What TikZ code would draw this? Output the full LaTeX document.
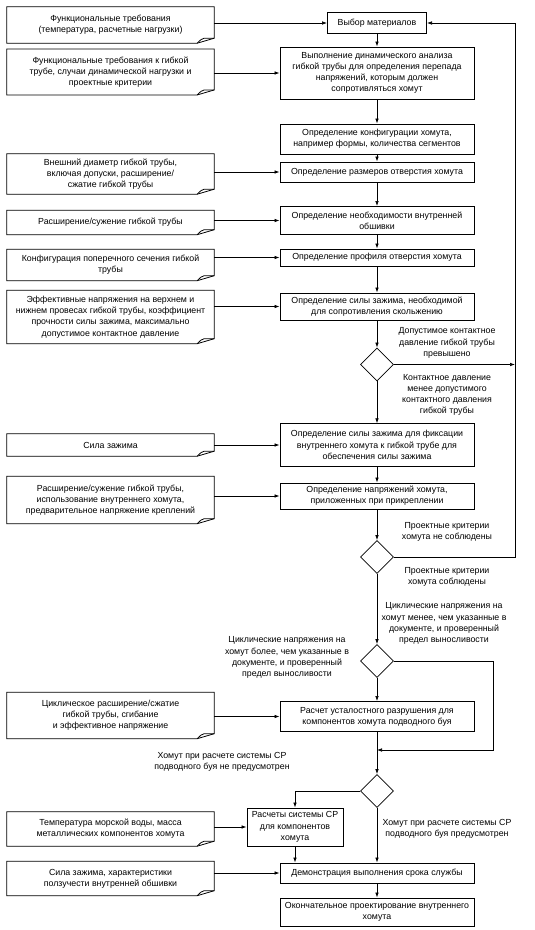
\documentclass[tikz,border=0pt]{standalone}
\usepackage{fontspec}
\setmainfont{Liberation Sans}
\usetikzlibrary{arrows.meta,shapes.geometric}
\begin{document}
\begin{tikzpicture}[x=1pt,y=-1pt,
  every node/.style={font=\fontsize{8.8}{11.2}\selectfont, align=center, inner sep=0pt},
  proc/.style={draw, line width=1pt, minimum width=194pt},
  docbox/.style={minimum width=207pt},
  dia/.style={draw, diamond, line width=0.8pt, minimum width=33pt, minimum height=33pt},
  docline/.style={line width=0.8pt, line join=miter},
  arr/.style={line width=0.7pt, -{Latex[length=5pt,width=3.6pt]}},
  lbl/.style={}]
\useasboundingbox (0,0) rectangle (535,930);
\fill[white] (0,0) rectangle (535,930);

% process boxes
\node[draw, line width=1pt, minimum width=99pt, minimum height=21.5pt] (m0) at (377,23) {Выбор материалов};
\node[proc, minimum height=52pt] (p1) at (377,73) {Выполнение динамического анализа\\гибкой трубы для определения перепада\\напряжений, которым должен\\сопротивляться хомут};
\node[proc, minimum height=30pt] (p2) at (377,139) {Определение конфигурации хомута,\\например формы, количества сегментов};
\node[proc, minimum height=20pt] (p3) at (377,172) {Определение размеров отверстия хомута};
\node[proc, minimum height=28pt] (p4) at (377,220.5) {Определение необходимости внутренней\\обшивки};
\node[proc, minimum height=17pt] (p5) at (377,257.5) {Определение профиля отверстия хомута};
\node[proc, minimum height=27pt] (p6) at (377,306.5) {Определение силы зажима, необходимой\\для сопротивления скольжению};
\node[dia] (D1) at (377,364.5) {};
\node[proc, minimum height=42.5pt] (p7) at (377,445) {Определение силы зажима для фиксации\\внутреннего хомута к гибкой трубе для\\обеспечения силы зажима};
\node[proc, minimum height=26pt] (p8) at (377,496) {Определение напряжений хомута,\\приложенных при прикреплении};
\node[dia] (D2) at (377,557) {};
\node[dia] (D3) at (377,661) {};
\node[proc, minimum height=30pt] (p9) at (377,716.5) {Расчет усталостного разрушения для\\компонентов хомута подводного буя};
\node[dia] (D4) at (377,791) {};
\node[draw, line width=1pt, minimum width=96pt, minimum height=38pt] (p11) at (295,827) {Расчеты системы СР\\для компонентов\\хомута};
\node[proc, minimum height=20pt] (p12) at (377,873) {Демонстрация выполнения срока службы};
\node[proc, minimum height=28pt] (p13) at (377,912) {Окончательное проектирование внутреннего\\хомута};

% document boxes
\node[docbox, minimum height=36pt] (d1) at (110.5,25) {Функциональные требования\\(температура, расчетные нагрузки)};
\node[docbox, minimum height=45.5pt] (d2) at (110.5,72) {Функциональные требования к гибкой\\трубе, случаи динамической нагрузки и\\проектные критерии};
\node[docbox, minimum height=40pt] (d3) at (110.5,174) {Внешний диаметр гибкой трубы,\\включая допуски, расширение/\\сжатие гибкой трубы};
\node[docbox, minimum height=24pt] (d4) at (110.5,222.5) {Расширение/сужение гибкой трубы};
\node[docbox, minimum height=31pt] (d5) at (110.5,265) {Конфигурация поперечного сечения гибкой\\трубы};
\node[docbox, minimum height=53pt] (d6) at (110.5,317) {Эффективные напряжения на верхнем и\\нижнем провесах гибкой трубы, коэффициент\\прочности силы зажима, максимально\\допустимое контактное давление};
\node[docbox, minimum height=22pt] (d7) at (110.5,445) {Сила зажима};
\node[docbox, minimum height=47pt] (d8) at (110.5,500) {Расширение/сужение гибкой трубы,\\использование внутреннего хомута,\\предварительное напряжение креплений};
\node[docbox, minimum height=46pt] (d9) at (110.5,715.5) {Циклическое расширение/сжатие\\гибкой трубы, сгибание\\и эффективное напряжение};
\node[docbox, minimum height=34pt] (d10) at (110.5,829) {Температура морской воды, масса\\металлических компонентов хомута};
\node[docbox, minimum height=34pt] (d11) at (110.5,878.5) {Сила зажима, характеристики\\ползучести внутренней обшивки};

\foreach \n in {d1,d2,d3,d4,d5,d6,d7,d8,d9,d10,d11}{
  \draw[docline] (\n.north west) -- (\n.north east) -- ([yshift=5pt]\n.south east)
     -- ([xshift=-17pt]\n.south east) -- (\n.south west) -- cycle;
  \draw[docline] ([xshift=-17pt]\n.south east) .. controls ([xshift=-13pt,yshift=4pt]\n.south east) .. ([xshift=-10pt,yshift=5pt]\n.south east) -- ([yshift=5pt]\n.south east);
}

% labels
\node[lbl] (L1) at (447,343) {Допустимое контактное\\давление гибкой трубы\\превышено};
\node[lbl] (L2) at (447,395) {Контактное давление\\менее допустимого\\контактного давления\\гибкой трубы};
\node[lbl] (L3) at (447,532) {Проектные критерии\\хомута не соблюдены};
\node[lbl] (L4) at (447,577) {Проектные критерии\\хомута соблюдены};
\node[lbl] (L5) at (444,623.5) {Циклические напряжения на\\хомут менее, чем указанные в\\документе, и проверенный\\предел выносливости};
\node[lbl] (L6) at (287,657.5) {Циклические напряжения на\\хомут более, чем указанные в\\документе, и проверенный\\предел выносливости};
\node[lbl] (L7) at (222,762) {Хомут при расчете системы СР\\подводного буя не предусмотрен};
\node[lbl] (L8) at (447,828.5) {Хомут при расчете системы СР\\подводного буя предусмотрен};

\coordinate (fb) at (515,0);
\coordinate (c3) at (493,750);

% main flow
\draw[arr] (m0) -- (p1);
\draw[arr] (p1) -- (p2);
\draw[arr] (p2) -- (p3);
\draw[arr] (p3) -- (p4);
\draw[arr] (p4) -- (p5);
\draw[arr] (p5) -- (p6);
\draw[arr] (p6) -- (D1);
\draw[arr] (D1) -- (p7);
\draw[arr] (p7) -- (p8);
\draw[arr] (p8) -- (D2);
\draw[arr] (D2) -- (D3);
\draw[arr] (D3) -- (p9);
\draw[arr] (p9) -- (D4);
\draw[arr] (D4.south) -- (D4.south |- p12.north);
\draw[arr] (p12) -- (p13);
\draw[arr] (D4.west) -| (p11.north);
\draw[arr] (p11.south) -- (p11.south |- p12.north);

% feedback
\draw[arr] (D2.east) -- (D2.east -| fb) |- (m0.east);
\draw[arr] (D1.east) -- (D1.east -| fb);
\draw[arr] (D3.east) -| (c3) -- (c3 -| p9.south);

% inputs
\draw[arr] (d1.east |- m0.west) -- (m0.west);
\draw[arr] (d2.east |- p1.west) -- (p1.west);
\draw[arr] (d3.east |- p3.west) -- (p3.west);
\draw[arr] (d4.east |- p4.west) -- (p4.west);
\draw[arr] (d5.east |- p5.west) -- (p5.west);
\draw[arr] (d6.east |- p6.west) -- (p6.west);
\draw[arr] (d7.east |- p7.west) -- (p7.west);
\draw[arr] (d8.east |- p8.west) -- (p8.west);
\draw[arr] (d9.east |- p9.west) -- (p9.west);
\draw[arr] (d10.east |- p11.west) -- (p11.west);
\draw[arr] (d11.east |- p12.west) -- (p12.west);
\end{tikzpicture}
\end{document}
